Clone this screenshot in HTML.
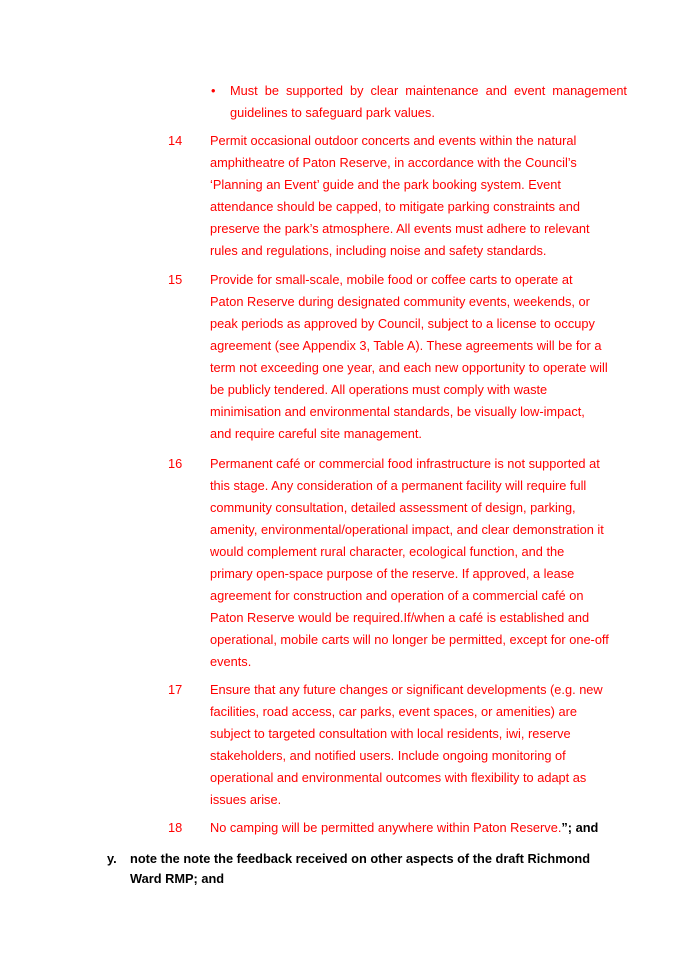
<!DOCTYPE html>
<html><head><meta charset="utf-8"><style>
body{margin:0;width:690px;height:975px;background:#fff;position:relative;overflow:hidden;font-family:"Liberation Sans",Arial,sans-serif;font-size:12.8px;}
.p{position:absolute;line-height:22px;color:#ff0000;white-space:nowrap;}
.n{left:168px;}
.t{left:210px;}
.b{color:#000;font-weight:bold;}
</style></head><body>
<div class="p" style="left:211px;top:80px">•</div>
<div class="p" style="left:230px;top:80px;width:397px;white-space:normal;text-align:justify;text-align-last:left;">Must be supported by clear maintenance and event management guidelines to safeguard park values.</div>

<div class="p n" style="top:130px">14</div>
<div class="p t" style="top:130px">Permit occasional outdoor concerts and events within the natural<br>amphitheatre of Paton Reserve, in accordance with the Council’s<br>‘Planning an Event’ guide and the park booking system. Event<br>attendance should be capped, to mitigate parking constraints and<br>preserve the park’s atmosphere. All events must adhere to relevant<br>rules and regulations, including noise and safety standards.</div>

<div class="p n" style="top:269px">15</div>
<div class="p t" style="top:269px">Provide for small-scale, mobile food or coffee carts to operate at<br>Paton Reserve during designated community events, weekends, or<br>peak periods as approved by Council, subject to a license to occupy<br>agreement (see Appendix 3, Table A). These agreements will be for a<br>term not exceeding one year, and each new opportunity to operate will<br>be publicly tendered. All operations must comply with waste<br>minimisation and environmental standards, be visually low-impact,<br>and require careful site management.</div>

<div class="p n" style="top:453px">16</div>
<div class="p t" style="top:453px">Permanent café or commercial food infrastructure is not supported at<br>this stage. Any consideration of a permanent facility will require full<br>community consultation, detailed assessment of design, parking,<br>amenity, environmental/operational impact, and clear demonstration it<br>would complement rural character, ecological function, and the<br>primary open-space purpose of the reserve. If approved, a lease<br>agreement for construction and operation of a commercial café on<br>Paton Reserve would be required.If/when a café is established and<br>operational, mobile carts will no longer be permitted, except for one-off<br>events.</div>

<div class="p n" style="top:679px">17</div>
<div class="p t" style="top:679px">Ensure that any future changes or significant developments (e.g. new<br>facilities, road access, car parks, event spaces, or amenities) are<br>subject to targeted consultation with local residents, iwi, reserve<br>stakeholders, and notified users. Include ongoing monitoring of<br>operational and environmental outcomes with flexibility to adapt as<br>issues arise.</div>

<div class="p n" style="top:817px">18</div>
<div class="p t" style="top:817px">No camping will be permitted anywhere within Paton Reserve.<span class="b">”; and</span></div>

<div class="p b" style="left:107px;top:849px;line-height:20px">y.</div>
<div class="p b" style="left:130px;top:849px;line-height:20px">note the note the feedback received on other aspects of the draft Richmond<br>Ward RMP; and</div>
</body></html>
